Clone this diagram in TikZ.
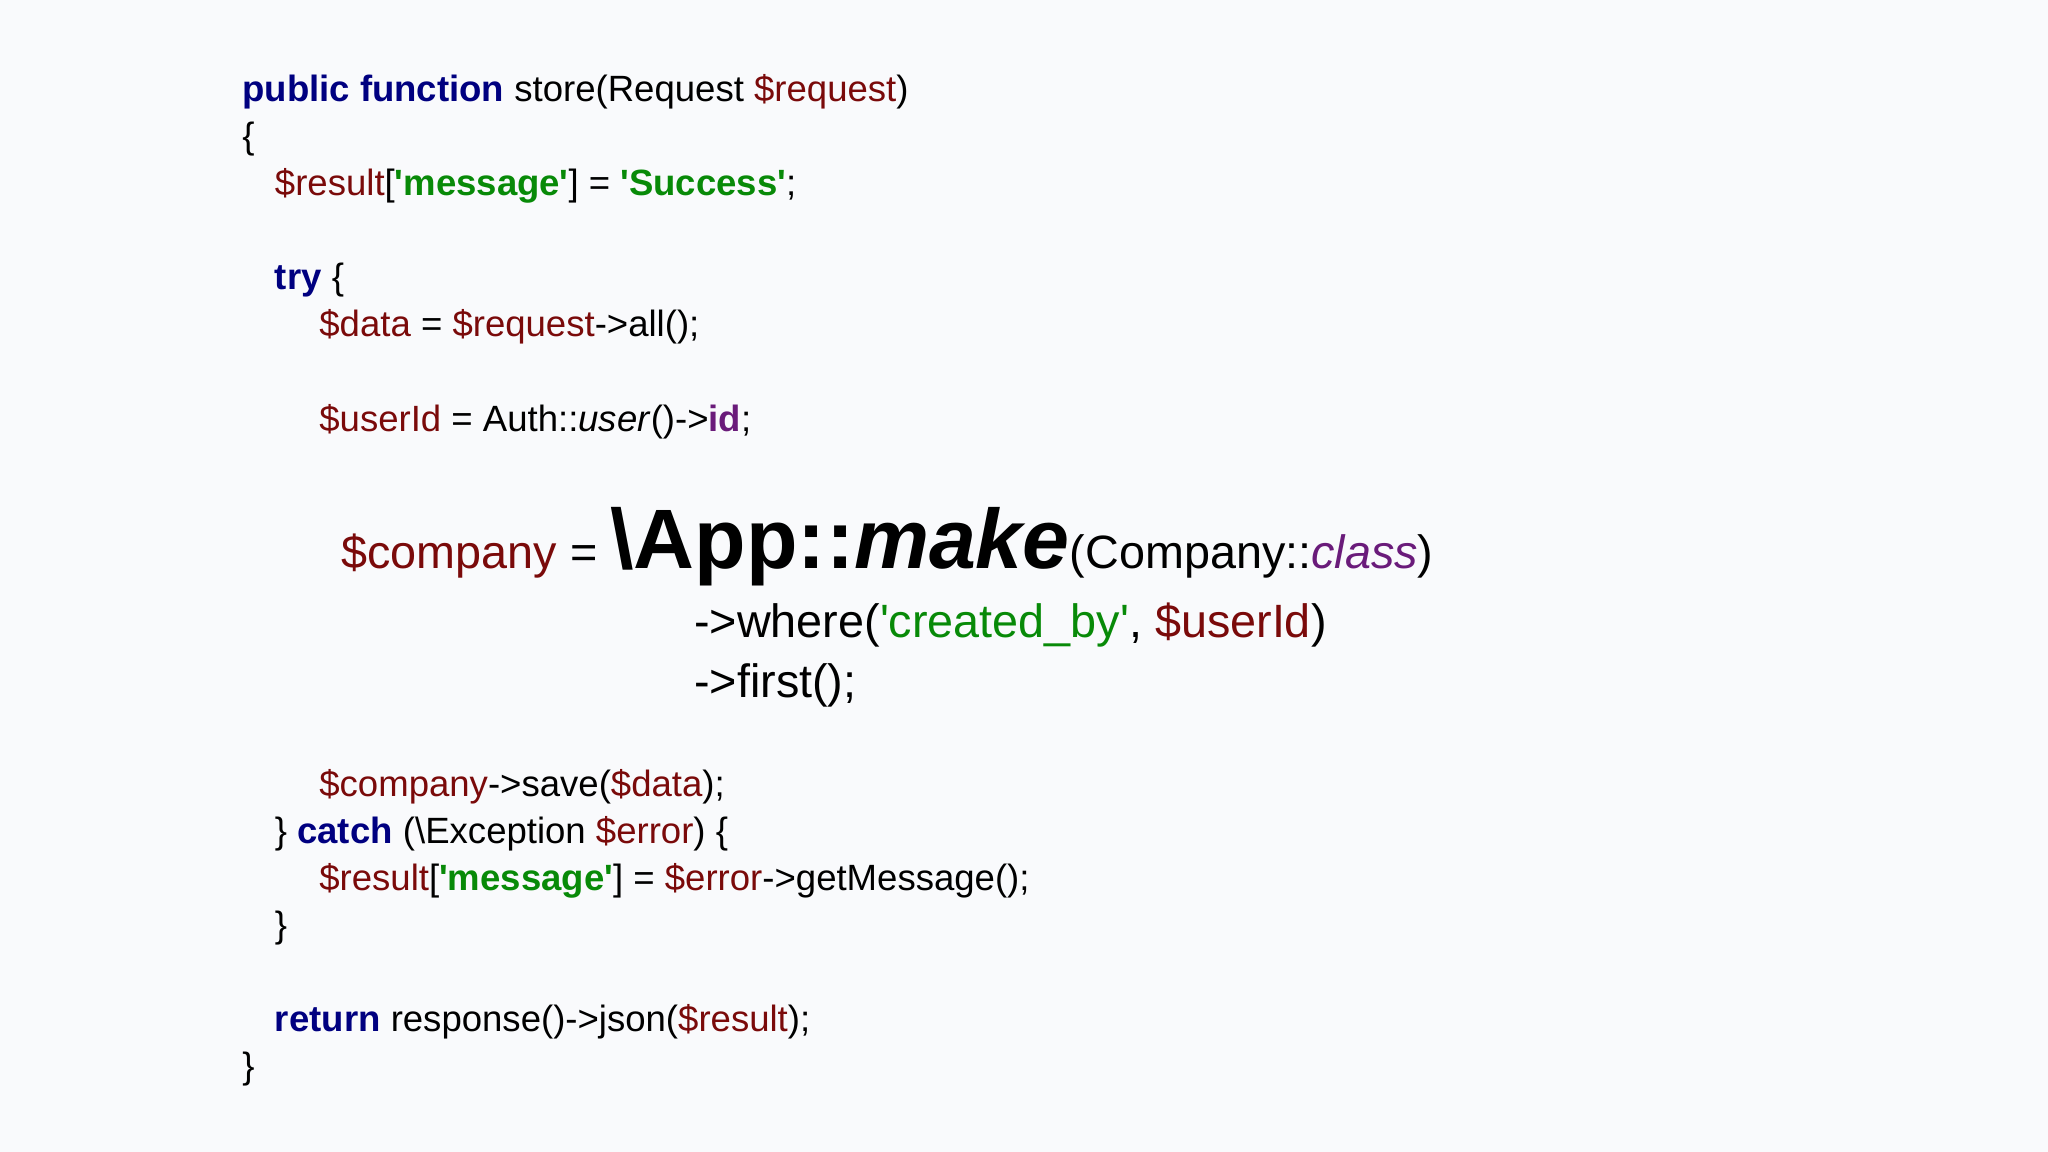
\documentclass[tikz,border=0pt]{standalone}
\usepackage{fontspec}
\setmainfont{Liberation Sans}
\definecolor{bgc}{HTML}{F9FAFC}
\definecolor{kwc}{HTML}{000080}
\definecolor{vrc}{HTML}{7A0A0A}
\definecolor{stc}{HTML}{088A08}
\definecolor{puc}{HTML}{6A1B7A}
\newcommand\kw[1]{\textcolor{kwc}{\bfseries #1}}
\newcommand\vr[1]{\textcolor{vrc}{#1}}
\newcommand\st[1]{\textcolor{stc}{\bfseries #1}}
\newcommand\stn[1]{\textcolor{stc}{#1}}
\newcommand\q{\textquotesingle}
\begin{document}
\begin{tikzpicture}[x=0.013061cm,y=-0.013061cm,
  ln/.style={anchor=base west,inner sep=0pt,font=\fontsize{10.4pt}{12pt}\selectfont},
  big/.style={anchor=base west,inner sep=0pt,font=\fontsize{13.3pt}{15pt}\selectfont}]
\fill[bgc] (0,0) rectangle (1568,882);
\node[ln] (l1) at (185,78) {\kw{public function} store(Request \vr{\$request})};
\node[ln] (l2) at (185,114) {\{};
\node[ln] (l3) at (210,150) {\vr{\$result}[\st{\q message\q}] = \st{\q Success\q};};
\node[ln] (l4) at (210,222) {\kw{try} \{};
\node[ln] (l5) at (244,258) {\vr{\$data} = \vr{\$request}->all();};
\node[ln] (l6) at (244,330) {\vr{\$userId} = Auth::\textit{user}()->\textcolor{puc}{\bfseries id};};
\node[big] (l7) at (261,435) {\vr{\$company} = {\fontsize{24pt}{26pt}\selectfont\bfseries \textbackslash App::\textit{make}}(Company::\textcolor{puc}{\itshape class})};
\node[big] (l8) at (531,488) {->where(\stn{\q created\_by\q}, \vr{\$userId})};
\node[big] (l9) at (531,534) {->first();};
\node[ln] (l10) at (244,610) {\vr{\$company}->save(\vr{\$data});};
\node[ln] (l11) at (210,646) {\} \kw{catch} (\textbackslash Exception \vr{\$error}) \{};
\node[ln] (l12) at (244,682) {\vr{\$result}[\st{\q message\q}] = \vr{\$error}->getMessage();};
\node[ln] (l13) at (210,718) {\}};
\node[ln] (l14) at (210,790) {\kw{return} response()->json(\vr{\$result});};
\node[ln] (l15) at (185,826) {\}};
\end{tikzpicture}
\end{document}
